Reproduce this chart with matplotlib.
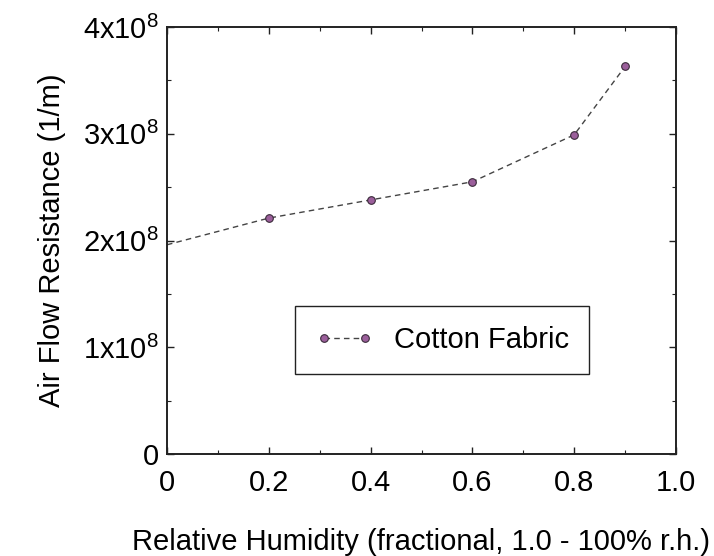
import matplotlib.pyplot as plt
from matplotlib.ticker import FuncFormatter, MultipleLocator

plt.rcParams['font.family'] = ['Liberation Sans', 'DejaVu Sans']
plt.rcParams['mathtext.fontset'] = 'custom'
plt.rcParams['mathtext.rm'] = 'Liberation Sans'
plt.rcParams['mathtext.it'] = 'Liberation Sans:italic'

# data
humidity = [0.0, 0.2, 0.4, 0.6, 0.8, 0.9]
resistance = [1.96e8, 2.21e8, 2.38e8, 2.55e8, 2.99e8, 3.63e8]

fig = plt.figure(figsize=(7.14, 5.56), dpi=100)
ax = fig.add_axes([167 / 714, 1 - 454 / 556, 509 / 714, 427 / 556])

ax.plot(humidity, resistance, linestyle=(0, (4, 3)), color='#444444', linewidth=1.0,
        marker='o', markersize=5.5, markerfacecolor='#9b5f9b', markeredgecolor='#3a2a3a',
        markeredgewidth=0.8, markevery=[1, 2, 3, 4, 5], label='Cotton Fabric')

ax.set_xlim(0, 1.0)
ax.set_ylim(0, 4e8)
ax.set_xticks([0, 0.2, 0.4, 0.6, 0.8, 1.0])
ax.set_xticklabels(['0', '0.2', '0.4', '0.6', '0.8', '1.0'])
ax.xaxis.set_minor_locator(MultipleLocator(0.1))
ax.set_yticks([0, 1e8, 2e8, 3e8, 4e8])
ax.yaxis.set_minor_locator(MultipleLocator(0.5e8))


def fmt(v, pos):
    n = int(round(v / 1e8))
    if n == 0:
        return '0'
    return f'{n}x10$^{{8}}$'


ax.yaxis.set_major_formatter(FuncFormatter(fmt))

ax.tick_params(which='both', direction='in', top=True, right=True, color='#222222')
ax.tick_params(which='major', length=5, width=1)
ax.tick_params(which='minor', length=3, width=0.8)
ax.tick_params(axis='x', labelsize=21, pad=11)
ax.tick_params(axis='y', labelsize=21, pad=6)
for s in ax.spines.values():
    s.set_linewidth(1.4)
    s.set_color('#222222')

ax.set_xlabel('Relative Humidity (fractional, 1.0 - 100% r.h.)', fontsize=21, labelpad=22)
ax.set_ylabel('Air Flow Resistance (1/m)', fontsize=21, labelpad=12)

leg = ax.legend(loc='center', bbox_to_anchor=(0.54, 0.267), fontsize=21, fancybox=False,
                framealpha=1, edgecolor='#222222', handlelength=2.0, borderpad=0.7,
                handletextpad=0.7, numpoints=2)
leg.get_frame().set_linewidth(1.0)

fig.savefig('out.png', dpi=100)
